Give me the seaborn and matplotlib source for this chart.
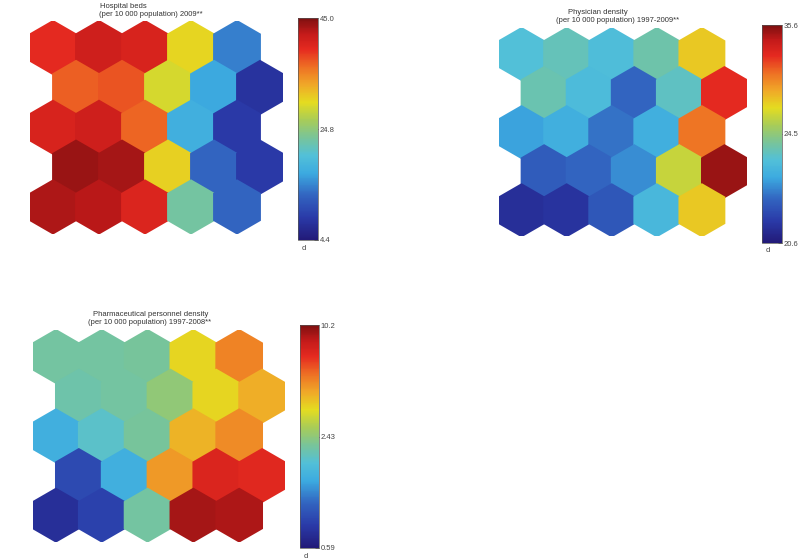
import numpy as np
import pandas as pd
import matplotlib
matplotlib.use("Agg")
import matplotlib.pyplot as plt
import matplotlib.colors as mcolors
import seaborn as sns

# ---- data (component plane levels, normalised 0..1, rows top -> bottom) ----
hospital_beds = [
    [0.86, 0.91, 0.89, 0.63, 0.24],
    [0.80, 0.81, 0.60, 0.30, 0.08],
    [0.89, 0.91, 0.79, 0.32, 0.10],
    [0.97, 0.96, 0.64, 0.20, 0.10],
    [0.95, 0.94, 0.88, 0.45, 0.20],
]
physician_density = [
    [0.38, 0.42, 0.37, 0.44, 0.65],
    [0.43, 0.36, 0.20, 0.41, 0.86],
    [0.29, 0.32, 0.22, 0.32, 0.77],
    [0.18, 0.20, 0.26, 0.58, 0.97],
    [0.07, 0.08, 0.17, 0.35, 0.65],
]
pharma_density = [
    [0.45, 0.45, 0.46, 0.63, 0.75],
    [0.44, 0.45, 0.50, 0.63, 0.69],
    [0.32, 0.40, 0.46, 0.68, 0.74],
    [0.14, 0.32, 0.72, 0.88, 0.87],
    [0.07, 0.12, 0.45, 0.96, 0.95],
]
titles = [
    ("Hospital beds", "(per 10 000 population) 2009**"),
    ("Physician density", "(per 10 000 population) 1997-2009**"),
    ("Pharmaceutical personnel density", "(per 10 000 population) 1997-2008**"),
]
tick_labels = [
    ["4.4", "24.8", "45.0"],
    ["20.6", "24.5", "35.6"],
    ["0.59", "2.43", "10.2"],
]

sns.set_theme(style="white")
plt.rcParams['font.family'] = ['Liberation Sans', 'DejaVu Sans']

W, H = 801, 560
fig = plt.figure(figsize=(W / 100, H / 100), dpi=100)

def px_axes(left, top, w, h):
    return fig.add_axes([left / W, 1 - (top + h) / H, w / W, h / H])

# muted "jet"-like colour scale as seen in the reference
cmap = mcolors.LinearSegmentedColormap.from_list("mjet", [
    (0.00, "#221a78"),
    (0.10, "#2a3aa8"),
    (0.20, "#3264c0"),
    (0.30, "#3caae0"),
    (0.38, "#52c0d8"),
    (0.46, "#78c49a"),
    (0.54, "#a8cc58"),
    (0.62, "#e4dc20"),
    (0.70, "#f0a828"),
    (0.78, "#ee7024"),
    (0.86, "#e52a20"),
    (0.93, "#c41a1a"),
    (1.00, "#7e1010"),
])

def grid_frame(values):
    rows = []
    for r, row in enumerate(values):
        for c, v in enumerate(row):
            rows.append({"x": c + 0.5 * (r % 2), "y": -r * np.sqrt(3) / 2, "v": v})
    return pd.DataFrame(rows)

panels = [
    dict(data=hospital_beds, ax=(30, 21, 253, 212.5), cb=(298, 18, 20, 222),
         t1=(123, 7), t2=(151, 15)),
    dict(data=physician_density, ax=(499, 28, 248, 208.3), cb=(762, 25, 20, 218),
         t1=(598, 12), t2=(618, 21)),
    dict(data=pharma_density, ax=(33, 330, 252, 211.6), cb=(300, 325, 19, 223),
         t1=(151, 315), t2=(150, 323)),
]

R = 1 / np.sqrt(3)
for i, p in enumerate(panels):
    left, top, w, h = p["ax"]
    ax = px_axes(left, top, w, h)
    df = grid_frame(p["data"])
    d_pt = w / 5.5 * 0.72
    size = 2 * d_pt / np.sqrt(3) * 1.04
    sns.scatterplot(data=df, x="x", y="y", hue="v", palette=cmap, hue_norm=(0, 1),
                    marker="h", s=size ** 2, linewidth=0, legend=False, ax=ax)
    ax.set_xlim(-0.5, 5.0)
    ax.set_ylim(-4 * np.sqrt(3) / 2 - R, R)
    ax.axis("off")

    cl, ct, cw, ch = p["cb"]
    cax = px_axes(cl, ct, cw, ch)
    sm = plt.cm.ScalarMappable(norm=mcolors.Normalize(0, 1), cmap=cmap)
    cb = fig.colorbar(sm, cax=cax)
    cb.set_ticks([0, 0.5, 1])
    cb.set_ticklabels(tick_labels[i])
    cb.outline.set_linewidth(0.5)
    cb.outline.set_edgecolor("#555555")
    cax.tick_params(labelsize=5.5, length=3, width=0.5, pad=1, colors="#444444",
                    direction="in")
    fig.text((cl + 4) / W, 1 - (ct + ch + 8) / H, "d", fontsize=5.5,
             color="#444444", ha="left", va="center")

    fig.text(p["t1"][0] / W, 1 - p["t1"][1] / H, titles[i][0], fontsize=5.5,
             ha="center", va="center", color="#333333")
    fig.text(p["t2"][0] / W, 1 - p["t2"][1] / H, titles[i][1], fontsize=5.5,
             ha="center", va="center", color="#333333")

fig.savefig("out.png", dpi=100)
